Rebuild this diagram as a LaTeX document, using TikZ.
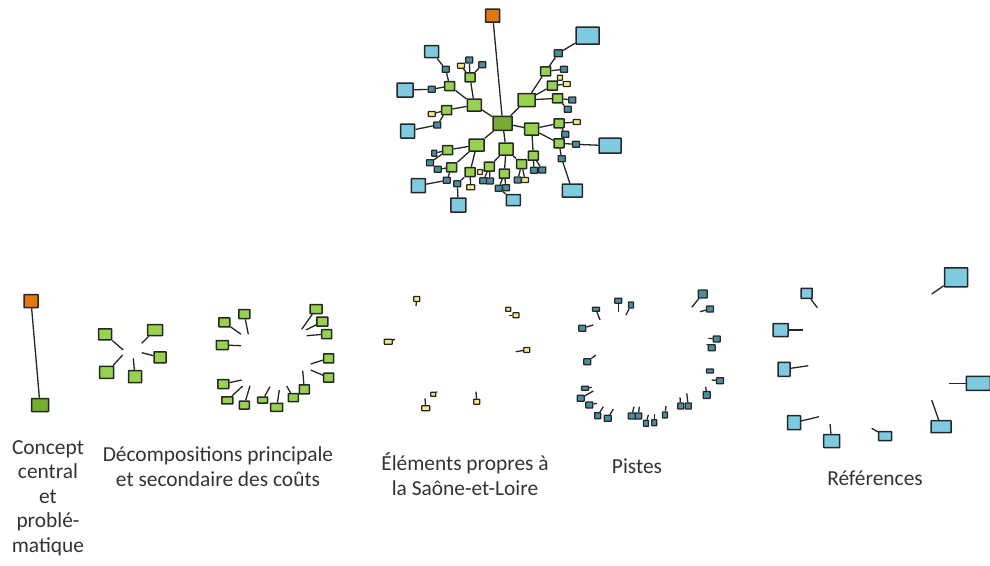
\documentclass[tikz,border=0pt]{standalone}
\usepackage{fontspec}
\setmainfont{Carlito}
\usetikzlibrary{backgrounds}
\definecolor{rootc}{HTML}{E2780F}
\definecolor{hubc}{HTML}{76AC31}
\definecolor{leafg}{HTML}{97D24F}
\definecolor{tealc}{HTML}{4B8C9E}
\definecolor{yelc}{HTML}{F6E88A}
\definecolor{bluec}{HTML}{7ECBE1}
\definecolor{txtc}{HTML}{333333}
\tikzset{
  cell/.style={draw=black!85, line width=1.5pt, inner sep=0pt, rounded corners=0.4pt},
  rootbox/.style={cell, fill=rootc, minimum width=14pt, minimum height=13pt},
  hubbox/.style={cell, fill=hubc, minimum width=19pt, minimum height=14pt},
  greenbox/.style={cell, fill=leafg, minimum width=14pt, minimum height=12pt},
  greensm/.style={cell, fill=leafg, minimum width=10pt, minimum height=9pt},
  tealbox/.style={cell, fill=tealc, minimum width=7pt, minimum height=6pt, line width=1.2pt},
  yelbox/.style={cell, fill=yelc, minimum width=7pt, minimum height=5pt, line width=1.2pt},
  bluebox/.style={cell, fill=bluec, minimum width=14pt, minimum height=12pt},
  bluebig/.style={cell, fill=bluec, minimum width=23pt, minimum height=17pt},
  link/.style={draw=black!85, line width=1.3pt},
  caption/.style={text=txtc, align=center, font=\fontsize{21.4}{24.5}\selectfont},
}
% node with a cut link pointing back to its old parent
\newcommand{\stub}[4]{\node[#1] (#2) at (#3) {}; \coordinate (#2e) at (#4); \draw[link] (#2) -- (#2e);}

\begin{document}
\begin{tikzpicture}[x=1pt, y=-1pt]
  \useasboundingbox (0,0) rectangle (990,565);
  % whole map
  \node[rootbox] (root) at (492.7,15.7) {};
  \node[hubbox] (hub) at (502.7,123.3) {};
  \node[greenbox] (g1) at (474.3,105) {};
  \node[greenbox, minimum width=17pt, minimum height=13pt] (g2) at (526.7,100) {};
  \node[greenbox] (g3) at (531.7,129) {};
  \node[greenbox, minimum width=15pt] (g4) at (476.7,145) {};
  \node[greenbox] (g5) at (506,149) {};
  \node[greensm] (g1a) at (470,77.3) {};
  \node[yelbox] (y1) at (461,65.7) {};
  \node[tealbox] (t1) at (469.3,60) {};
  \node[tealbox] (t2) at (482.3,64.7) {};
  \node[greensm] (g1b) at (449.7,86) {};
  \node[tealbox] (t3) at (445.7,69.3) {};
  \node[bluebox] (b1) at (431.7,51.7) {};
  \node[tealbox] (t4) at (431.7,89.3) {};
  \node[bluebox, minimum width=16pt, minimum height=14pt] (b2) at (405,90) {};
  \node[greensm] (g1c) at (446.7,110) {};
  \node[yelbox] (y2) at (431.7,114) {};
  \node[tealbox] (t5) at (437.3,125) {};
  \node[bluebox, minimum height=14pt] (b3) at (407.7,131) {};
  \node[greensm] (g2a) at (545.7,71.3) {};
  \node[tealbox, minimum width=8pt, minimum height=7pt] (t6) at (558.3,53.3) {};
  \node[bluebig] (b4) at (587.7,35.7) {};
  \node[tealbox] (t7) at (564,69.3) {};
  \node[greensm] (g2b) at (552.3,85.7) {};
  \node[yelbox, minimum width=5pt] (y3) at (560,77.7) {};
  \node[yelbox] (y4) at (566.7,84) {};
  \node[greensm] (g2c) at (557.7,98.3) {};
  \node[tealbox] (t8) at (572.3,100) {};
  \node[tealbox] (t9) at (567.7,109.3) {};
  \node[greensm] (g3a) at (559,123.3) {};
  \node[yelbox] (y5) at (576.7,122) {};
  \node[tealbox] (t10) at (565.3,134.3) {};
  \node[greensm] (g3b) at (559,143.3) {};
  \node[tealbox] (t11) at (576,144.3) {};
  \node[bluebig, minimum width=22pt, minimum height=15pt] (b5) at (610,145.7) {};
  \node[tealbox] (t12) at (561.7,158.7) {};
  \node[bluebig, minimum width=20pt, minimum height=13pt] (b6) at (572.3,190.7) {};
  \node[greensm] (g3c) at (533.3,155.7) {};
  \node[tealbox] (t13) at (534,170.3) {};
  \node[tealbox] (t14) at (542.3,170) {};
  \node[greensm] (g4a) at (447.7,150) {};
  \node[tealbox, minimum width=5pt] (t15) at (434.3,153.3) {};
  \node[tealbox] (t16) at (430,162.7) {};
  \node[greensm] (g4b) at (451.7,167.3) {};
  \node[tealbox] (t17) at (437.7,169.3) {};
  \node[tealbox] (t18) at (446.7,180.3) {};
  \node[bluebox, minimum width=14pt, minimum height=14pt] (b7) at (418.3,185.7) {};
  \node[greensm] (g4c) at (470,172) {};
  \node[tealbox] (t19) at (457.3,183.7) {};
  \node[bluebox, minimum width=15pt, minimum height=14pt] (b8) at (458.3,205) {};
  \node[yelbox, minimum width=8pt] (y6) at (470.7,187.3) {};
  \node[greensm] (g5a) at (489.3,166.7) {};
  \node[yelbox, minimum width=5pt] (y7) at (480,172) {};
  \node[tealbox] (t20) at (483.3,180.7) {};
  \node[tealbox] (t21) at (490,181) {};
  \node[greensm] (g5b) at (504.3,173.7) {};
  \node[tealbox] (t22) at (498.7,188.3) {};
  \node[tealbox] (t23) at (506,187.7) {};
  \node[bluebox, minimum width=14pt, minimum height=11pt] (b9) at (513.3,200) {};
  \node[greensm] (g5c) at (521.7,164) {};
  \node[tealbox] (t24) at (517.7,180) {};
  \node[yelbox] (y8) at (525,180) {};
  \begin{scope}[on background layer]
    \draw[link] (root) -- (hub);
    \foreach \a/\b in {hub/g1, hub/g2, hub/g3, hub/g4, hub/g5,
        g1/g1a, g1a/y1, g1a/t1, g1a/t2, g1/g1b, g1b/t3, t3/b1, g1b/t4, t4/b2,
        g1/g1c, g1c/y2, g1c/t5, t5/b3,
        g2/g2a, g2a/t6, t6/b4, g2a/t7, g2/g2b, g2b/y3, g2b/y4, g2/g2c, g2c/t8, g2c/t9,
        g3/g3a, g3a/y5, g3a/t10, g3/g3b, g3b/t11, t11/b5, g3b/t12, t12/b6,
        g3/g3c, g3c/t13, g3c/t14,
        g4/g4a, g4a/t15, g4a/t16, g4/g4b, g4b/t17, g4b/t18, t18/b7,
        g4/g4c, g4c/t19, t19/b8, g4c/y6,
        g5/g5a, g5a/y7, g5a/t20, g5a/t21, g5/g5b, g5b/t22, g5b/t23, t22/b9,
        g5/g5c, g5c/t24, g5c/y8}
      \draw[link] (\a) -- (\b);
  \end{scope}

  % concept central
  \node[rootbox] (root2) at (31,301) {};
  \node[hubbox, minimum width=17pt, minimum height=13pt] (hub2) at (40,405) {};
  \draw[link] (root2) -- (hub2);

  % first level
  \stub{greenbox, minimum width=13pt, minimum height=11pt}{d1}{105,334.3}{123.3,350}
  \stub{greenbox, minimum width=15pt, minimum height=11pt}{d2}{155,330}{141.7,343.3}
  \stub{greenbox, minimum width=12pt, minimum height=11pt}{d3}{160,357.3}{141.7,352.7}
  \stub{greenbox, minimum width=14pt, minimum height=12pt}{d4}{106.7,372.3}{122.7,355}
  \stub{greenbox, minimum width=13pt, minimum height=12pt}{d5}{135,376.7}{133.3,358.3}

  % second level
  \stub{greensm, minimum width=11pt}{s1}{244.3,314}{248.3,334.3}
  \stub{greensm, minimum width=11pt}{s2}{224.3,322.3}{241,334.3}
  \stub{greensm, minimum width=12pt}{s3}{222.3,345}{241,345.7}
  \stub{greensm, minimum width=12pt}{s4}{316,309}{301.7,329.3}
  \stub{greensm, minimum width=11pt}{s5}{322.3,321.7}{306,330}
  \stub{greensm}{s6}{326.7,334}{306.7,335.7}
  \stub{greensm}{s7}{328.7,358.3}{310.7,364}
  \stub{greensm}{s8}{328.7,377.7}{310.7,370}
  \stub{greensm, minimum width=11pt}{s9}{223.3,384}{241.7,380}
  \stub{greensm, minimum width=11pt, minimum height=7pt}{s10}{227.3,400.3}{242.7,386}
  \stub{greensm, minimum height=8pt}{s11}{244.3,405}{250,385.7}
  \stub{greensm, minimum height=6pt}{s12}{262.7,400}{270,386.7}
  \stub{greensm, minimum width=12pt, minimum height=8pt}{s13}{276.7,407.3}{279.3,390}
  \stub{greensm, minimum height=8pt}{s14}{293.3,397.7}{286.7,386}
  \stub{greensm}{s15}{304.3,389.3}{302.7,370.7}

  % Saone-et-Loire
  \stub{yelbox, minimum width=6pt}{e1}{416.7,299}{416,306}
  \stub{yelbox, minimum width=5pt, minimum height=4pt}{e2}{508.3,309.3}{505,311.7}
  \stub{yelbox, minimum width=6pt}{e3}{516,315.3}{509,315.3}
  \stub{yelbox, minimum width=8pt}{e4}{388.3,341.7}{395,339.3}
  \stub{yelbox, minimum width=6pt}{e5}{526.7,350}{515.7,351.7}
  \stub{yelbox, minimum width=5pt, minimum height=4pt}{e6}{433.3,394.3}{437.3,391.7}
  \stub{yelbox, minimum width=8pt}{e7}{425.7,408.3}{425,398.3}
  \stub{yelbox, minimum width=6pt}{e8}{476.7,401.7}{476,391.7}

  % pistes
  \stub{tealbox, minimum width=9pt, minimum height=8pt}{p1}{702.7,294}{691.7,307.3}
  \stub{tealbox}{p2}{710,309}{700,311.7}
  \stub{tealbox}{p3}{716.7,339}{708.3,338.3}
  \stub{tealbox}{p4}{711.7,347.7}{706.7,344.3}
  \node[tealbox, minimum height=4pt] (p5) at (710,371) {};
  \stub{tealbox}{p6}{720,380.7}{711.7,380}
  \stub{tealbox, minimum height=7pt}{p7}{706.7,395}{705.7,386.7}
  \stub{tealbox, minimum width=6pt}{p8}{688.3,406}{686.7,393.3}
  \stub{tealbox, minimum width=6pt}{p9}{680.7,406}{680,397.3}
  \stub{tealbox, minimum width=5pt}{p10}{665,415}{666,406}
  \stub{tealbox, minimum width=5pt}{p11}{654.3,422.7}{654.3,414.3}
  \stub{tealbox, minimum width=5pt}{p12}{646,423.3}{648.3,415}
  \stub{tealbox}{p13}{638.3,416}{639.3,406.7}
  \stub{tealbox}{p14}{631.7,416}{634,406.7}
  \stub{tealbox}{p15}{607.7,418.3}{613.3,409}
  \stub{tealbox, minimum width=6pt}{p16}{597.7,415.7}{603.3,406.7}
  \stub{tealbox}{p17}{589.3,405}{596.7,403.3}
  \stub{tealbox}{p18}{580.7,398.3}{593.3,391}
  \stub{tealbox, minimum height=4pt}{p19}{585,388.3}{591.7,387.3}
  \stub{tealbox}{p20}{587.3,361.7}{595.7,355}
  \stub{tealbox}{p21}{582.3,328.3}{593.3,325}
  \stub{tealbox, minimum height=4pt}{p22}{596,309.3}{600,320}
  \stub{tealbox, minimum height=5pt}{p23}{618.3,300.7}{618.3,311.7}
  \stub{tealbox, minimum width=5pt}{p24}{631,305}{626,315}

  % references
  \stub{bluebig, minimum width=23pt, minimum height=19pt}{r1}{956,277.3}{931.7,294}
  \stub{bluebox, minimum width=11pt, minimum height=10pt}{r2}{806.7,293.3}{817.3,307.7}
  \stub{bluebox, minimum width=15pt, minimum height=13pt}{r3}{780.7,330}{803.3,330}
  \stub{bluebox, minimum width=12pt, minimum height=14pt}{r4}{784,369.3}{808.3,365.7}
  \stub{bluebig, minimum width=24pt, minimum height=14pt}{r5}{978.3,383.3}{949.3,383.3}
  \stub{bluebox, minimum width=20pt, minimum height=12pt}{r6}{941,426.7}{931.7,400}
  \stub{bluebox, minimum width=13pt, minimum height=14pt}{r7}{794,422.7}{819,416.7}
  \stub{bluebox, minimum width=16pt, minimum height=13pt}{r8}{831.7,441}{830,424}
  \stub{bluebox, minimum width=13pt, minimum height=9pt}{r9}{885,436}{871.7,428.3}

  \node[caption] (capa) at (48,498) {Concept\\central\\et\\problé-\\matique};
  \node[caption] (capb) at (218,466.5) {Décompositions principale\\et secondaire des coûts};
  \node[caption] (capc) at (465,474) {Éléments propres à\\la Saône-et-Loire};
  \node[caption] (capd) at (637,466) {Pistes};
  \node[caption] (cape) at (875,478) {Références};
\end{tikzpicture}
\end{document}
